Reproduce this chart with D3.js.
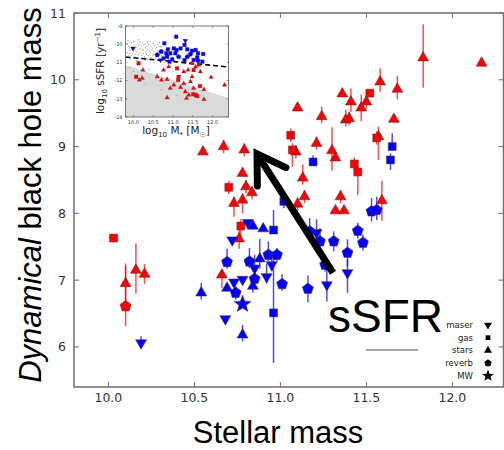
<!DOCTYPE html>
<html><head><meta charset="utf-8">
<script src="https://cdn.jsdelivr.net/npm/d3@7"></script>
<style>body{margin:0;background:#fff}svg{display:block}</style>
</head><body>
<svg id="c" width="504" height="450"></svg>
<script>
// ---------- DATA (x = log stellar mass, y = log BH mass, eLo, eHi) ----------
const redStars = [[10.10,6.95,0.3,0.3],[10.16,7.15,0.35,0.4],[10.21,7.09,0.15,0.15],[10.55,8.92,0,0],[10.67,9.00,0.1,0.1],
 [10.79,8.95,0.1,0.1],[10.78,8.60,0,0],[10.80,8.40,0.1,0.1],[10.835,8.31,0.1,0.1],[10.73,8.15,0.2,0.1],[10.78,8.20,0.2,0.1],
 [10.76,7.62,0.15,0.15],[10.66,7.08,0.2,0],[11.09,8.92,0.1,0.1],[11.21,9.05,0.1,0.1],[11.30,8.94,0.3,0.35],[11.32,8.83,0,0],
 [11.13,8.53,0.1,0.2],[11.14,8.25,0.1,0.1],[11.10,8.14,0.1,0.1],[11.35,8.25,0.1,0.1],[11.32,8.04,0,0],[11.37,8.04,0,0],
 [11.59,8.19,0.3,0.3],[11.83,10.33,0.45,0.5],[12.17,10.25,0,0],[11.58,9.97,0.15,0.2],[11.68,9.86,0.15,0.2],[11.36,9.79,0,0],
 [11.41,9.67,0.15,0.2],[11.50,9.67,0.1,0.1],[11.47,9.58,0.2,0.2],[11.10,9.58,0,0],[11.24,9.45,0.1,0.15],[11.38,9.40,0.1,0.15],
 [11.40,9.42,0.1,0.1],[11.66,9.41,0,0],[11.57,9.15,0.35,0.15]];
const redGas = [[10.03,7.63,0.05,0.05],[10.70,8.39,0.1,0.1],[10.77,7.81,0.15,0.1],[11.07,8.95,0.25,0.1],[11.43,8.74,0.1,0.1],
 [11.45,8.62,0.35,0.1],[11.52,9.80,0,0],[11.06,9.17,0.1,0.1],[11.56,9.13,0.1,0.1]];
const redReverb = [[10.10,6.61,0.3,0.6]];
const blueMaser = [[10.19,6.06,0,0.1],[10.72,7.60,0,0],[10.81,7.86,0,0],[10.95,7.23,0.1,0.2],[10.85,7.18,0.1,0.2],
 [10.92,7.05,0.1,0.2],[10.73,6.97,0,0],[10.78,7.01,0,0],[10.68,6.42,0,0],[11.27,6.93,0.25,0.28],[11.39,7.11,0.3,0.2],[11.21,7.71,0.1,0.2]];
const blueStars = [[10.54,6.81,0.1,0.15],[10.84,7.81,0,0],[10.90,7.77,0,0],[10.88,7.32,0.15,0.3],[10.84,6.91,0.1,0.1],
 [10.69,6.88,0,0],[10.78,6.18,0.1,0.15]];
const blueGas = [[10.96,7.75,0,0.3],[10.96,6.51,0.75,0.9],[11.19,8.77,0,0.1],[11.65,9.00,0,0.2],[11.64,8.80,0.15,0.1],[11.02,8.18,0.1,0.1]];
const blueReverb = [[10.69,7.27,0.1,0.2],[10.82,7.28,0.1,0.2],[10.93,7.38,0.1,0.2],[10.98,7.38,0.1,0.1],[10.85,7.02,0.1,0.1],
 [10.74,6.81,0.1,0.1],[11.01,6.94,0.1,0.15],[11.16,6.87,0.2,0.2],[11.39,7.41,0.2,0.2],[11.31,7.58,0.15,0.15],[11.23,7.58,0.15,0.2],
 [11.17,7.73,0.15,0.2],[11.45,7.74,0.12,0.12],[11.48,7.56,0.12,0.12],[11.53,8.03,0.15,0.2],[11.56,8.05,0.15,0.2],[11.26,7.23,0.1,0.1]];
const blueMW = [[10.78,6.64,0,0]];

const xTicks = [10.0,10.5,11.0,11.5,12.0];
const yTicks = [6,7,8,9,10,11];
const legendLabels = ["maser","gas","stars","reverb","MW"];
const arrowFromTo = [[11.306,7.11],[10.864,8.89]];

// ---------- INSET DATA (log M*, log sSFR) ----------
const insetBlueSq = [[10.78,-9.95],[10.87,-10.28],[10.93,-10.5],[11.02,-10.23],[11.06,-10.5],[10.85,-10.69],[10.98,-10.83],
 [11.09,-10.32],[10.76,-10.78],[10.91,-10.96],[11.08,-9.59],[11.29,-10.04],[11.36,-10.28],[11.48,-10.36],[11.57,-10.32],
 [11.63,-10.5],[11.76,-10.54],[11.61,-10.72],[11.29,-10.87],[11.52,-10.87],[11.74,-10.96],[11.19,-10.23],[10.83,-10.5]];
const insetBluePent = [[10.60,-10.59],[11.44,-10.54],[11.36,-10.69],[11.63,-10.9],[11.14,-10.69],[10.70,-10.41]];
const insetBlueMaser = [[9.99,-10.23],[11.31,-9.81],[10.68,-10.87]];
const insetRedSq = [[10.13,-11.05],[10.07,-11.79],[11.10,-11.33],[11.13,-11.97],[11.14,-11.79],[11.51,-12.75],[11.57,-12.79],
 [11.61,-12.85],[11.52,-11.42],[11.68,-12.30]];
const insetRedTri = [[10.24,-11.42],[10.15,-11.97],[10.22,-11.87],[10.60,-11.79],[10.71,-11.97],[10.85,-11.93],[10.76,-11.42],
 [10.89,-11.24],[11.19,-12.37],[10.85,-12.94],[11.31,-12.61],[11.40,-12.79],[11.34,-12.97],[11.44,-12.06],[11.48,-11.79],
 [11.57,-11.24],[11.65,-11.14],[11.48,-11.05],[11.69,-11.51],[11.38,-11.42],[11.27,-11.51],[11.52,-12.42],[11.78,-12.48],
 [11.78,-13.03],[11.96,-11.82],[12.30,-12.24],[11.02,-12.24],[10.93,-12.42],[11.27,-12.15]];
const insetCloud = [[9.85,-10.0],[9.9,-10.2],[9.95,-9.9],[10.0,-10.4],[10.05,-10.1],[10.1,-9.95],[10.15,-10.3],[10.2,-10.05],
 [10.25,-10.5],[10.3,-10.2],[10.35,-9.9],[10.4,-10.35],[10.45,-10.1],[10.5,-10.6],[10.55,-10.25],[10.6,-10.0],[10.65,-10.45],
 [10.7,-10.15],[10.75,-10.6],[10.8,-10.3],[9.88,-10.6],[9.93,-10.8],[9.98,-10.5],[10.03,-10.7],[10.08,-10.9],[10.13,-10.6],
 [10.18,-10.8],[10.23,-10.3],[10.28,-10.7],[10.33,-10.55],[10.38,-10.75],[10.43,-10.45],[10.48,-10.85],[10.53,-10.4],
 [10.58,-10.7],[10.63,-10.9],[10.68,-10.35],[10.73,-10.8],[10.78,-11.0],[10.83,-10.5],[10.88,-10.8],[10.93,-11.1],[10.98,-10.7],
 [11.05,-10.9],[11.12,-11.2],[11.2,-10.8],[11.3,-11.0],[11.4,-11.3],[11.5,-11.1],[9.9,-11.3],[10.0,-11.5],[10.2,-11.7],
 [10.4,-11.4],[10.6,-11.6],[10.8,-11.9],[11.0,-11.5],[11.2,-11.7],[11.4,-12.0],[10.3,-12.2],[10.7,-12.5],[11.1,-12.8],
 [11.5,-12.3],[9.86,-9.8],[10.12,-9.75],[10.42,-9.85],[10.66,-9.9],[9.92,-10.35],[10.02,-10.22],[10.17,-10.48],[10.27,-10.02],
 [10.37,-10.62],[10.47,-10.32],[10.57,-10.52],[10.72,-10.42],[10.87,-10.22],[10.92,-10.45],[9.96,-10.1],[10.09,-10.42],
 [10.21,-10.62],[10.34,-10.12],[10.46,-10.72],[10.59,-10.18],[10.71,-10.62],[10.84,-10.92],[9.84,-10.45],[10.52,-11.0],
 [9.87,-10.12],[9.91,-10.48],[9.97,-10.28],[10.01,-9.86],[10.04,-10.56],[10.07,-10.18],[10.11,-10.76],[10.14,-10.08],
 [10.19,-10.22],[10.22,-9.92],[10.26,-10.36],[10.29,-10.88],[10.32,-10.42],[10.36,-10.28],[10.39,-10.02],[10.41,-10.58],
 [10.44,-10.92],[10.49,-10.22],[10.51,-10.48],[10.54,-10.08],[10.56,-10.82],[10.61,-10.36],[10.64,-10.62],[10.67,-10.12],
 [10.69,-10.78],[10.74,-10.28],[10.77,-10.48],[10.81,-10.72],[10.86,-10.38],[10.9,-10.62],[10.96,-10.32],[11.0,-10.55],
 [9.89,-9.92],[9.94,-10.62],[10.06,-10.32],[10.16,-9.86],[10.24,-10.78],[10.31,-9.98],[10.36,-10.85],[10.5,-9.96]];
const insetDashed = [[9.8,-10.70],[12.4,-11.25]];
const insetQuenched = [[9.8,-11.14],[12.4,-12.96]];
const insetXTicks = [10.0,10.5,11.0,11.5,12.0];
const insetYTicks = [-9,-10,-11,-12,-13,-14];

// ---------- DRAWING ----------
const svg = d3.select("#c");
const RED="#ff0000", BLUE="#0000ff";
const x = d3.scaleLinear().domain([9.8,12.3]).range([74,504]);
const y = d3.scaleLinear().domain([5.4,11]).range([387,13]);

function poly(n, r, start, inner){
  const pts=[];
  const m = inner ? 2*n : n;
  for(let i=0;i<m;i++){
    const a = (start + i*360/m)*Math.PI/180;
    const rr = inner && (i%2) ? r*inner : r;
    pts.push([rr*Math.cos(a), rr*Math.sin(a)]);
  }
  return "M"+pts.map(p=>p[0].toFixed(2)+","+p[1].toFixed(2)).join("L")+"Z";
}
function shape(type, r){
  if(type==="tri") return poly(3,r,-90);
  if(type==="dtri") return poly(3,r,90);
  if(type==="sq") return poly(4,r,45);
  if(type==="pent") return poly(5,r,-90);
  if(type==="star") return poly(5,r,-90,0.42);
}

// axes frame
const ax = svg.append("g");
const L=74,R=503.5,T=13,B=387;
ax.append("path").attr("d",`M${L},${T}H${R}V${B}H${L}Z`).attr("fill","none").attr("stroke","#6e6e6e").attr("stroke-width",1.5);
xTicks.forEach(t=>{
  ax.append("line").attr("x1",x(t)).attr("x2",x(t)).attr("y1",B).attr("y2",B-5).attr("stroke","#6e6e6e");
  ax.append("line").attr("x1",x(t)).attr("x2",x(t)).attr("y1",T).attr("y2",T+5).attr("stroke","#6e6e6e");
  ax.append("text").attr("x",x(t)).attr("y",402).attr("text-anchor","middle")
    .attr("font-family","DejaVu Sans").attr("font-size",12.5).attr("fill","#333").text(t.toFixed(1));
});
yTicks.forEach(t=>{
  ax.append("line").attr("x1",L).attr("x2",L+5).attr("y1",y(t)).attr("y2",y(t)).attr("stroke","#6e6e6e");
  ax.append("line").attr("x1",R).attr("x2",R-5).attr("y1",y(t)).attr("y2",y(t)).attr("stroke","#6e6e6e");
  ax.append("text").attr("x",66).attr("y",y(t)+4.5).attr("text-anchor","end")
    .attr("font-family","DejaVu Sans").attr("font-size",12.5).attr("fill","#333").text(t);
});

// axis titles
svg.append("text").attr("x",278).attr("y",443).attr("text-anchor","middle")
  .attr("font-family","Liberation Sans, Arial").attr("font-size",31).attr("fill","#000").text("Stellar mass");
const yt = svg.append("text").attr("transform","translate(41,195) rotate(-90)").attr("text-anchor","middle")
  .attr("font-family","Liberation Sans, Arial").attr("font-size",31).attr("fill","#000");
yt.append("tspan").attr("font-style","italic").text("Dynamical");
yt.append("tspan").text(" black hole mass");

// series
const series = [
  {d:redStars,c:RED,t:"tri",r:6.3},{d:redGas,c:RED,t:"sq",r:5.6},{d:redReverb,c:RED,t:"pent",r:5.8},
  {d:blueMaser,c:BLUE,t:"dtri",r:6.3},{d:blueStars,c:BLUE,t:"tri",r:6.3},{d:blueGas,c:BLUE,t:"sq",r:5.6},
  {d:blueReverb,c:BLUE,t:"pent",r:5.8},{d:blueMW,c:BLUE,t:"star",r:9}
];
const eg = svg.append("g"), mg = svg.append("g");
series.forEach(s=>{
  eg.selectAll(null).data(s.d.filter(d=>d[2]>0||d[3]>0)).join("line")
    .attr("x1",d=>x(d[0])).attr("x2",d=>x(d[0])).attr("y1",d=>y(d[1]-d[2])).attr("y2",d=>y(d[1]+d[3]))
    .attr("stroke",s.c).attr("stroke-opacity",0.7).attr("stroke-width",1.5);
});
series.forEach(s=>{
  mg.selectAll(null).data(s.d).join("path")
    .attr("d",shape(s.t,s.r)).attr("transform",d=>`translate(${x(d[0])},${y(d[1])})`)
    .attr("fill",s.c).attr("stroke","#5a3030").attr("stroke-opacity",0.7).attr("stroke-width",0.8);
});

// arrow
const a0=[x(arrowFromTo[0][0]),y(arrowFromTo[0][1])], a1=[x(arrowFromTo[1][0]),y(arrowFromTo[1][1])];
const ang = Math.atan2(a0[1]-a1[1],a0[0]-a1[0]);
const hl=32, hw=32*Math.PI/180;
svg.append("line").attr("x1",a0[0]).attr("y1",a0[1]).attr("x2",a1[0]+2*Math.cos(ang)).attr("y2",a1[1]+2*Math.sin(ang))
  .attr("stroke","#000").attr("stroke-width",7);
svg.append("path").attr("d",`M${a1[0]+hl*Math.cos(ang+hw)},${a1[1]+hl*Math.sin(ang+hw)}L${a1[0]},${a1[1]}L${a1[0]+hl*Math.cos(ang-hw)},${a1[1]+hl*Math.sin(ang-hw)}`)
  .attr("fill","none").attr("stroke","#000").attr("stroke-width",7).attr("stroke-linejoin","miter").attr("stroke-linecap","round");

svg.append("text").attr("x",328).attr("y",332).attr("font-family","Liberation Sans, Arial").attr("font-size",46).attr("fill","#000").text("sSFR");

// legend
const lg = svg.append("g");
const legT = ["dtri","sq","tri","pent","star"], legR=[4.6,3.4,4.6,3.9,6.2];
legendLabels.forEach((lab,i)=>{
  const yy = 325+i*12.7;
  lg.append("text").attr("x",473).attr("y",yy+3).attr("text-anchor","end").attr("font-family","DejaVu Sans")
    .attr("font-size",8.5).attr("fill","#222").text(lab);
  lg.append("path").attr("d",shape(legT[i],legR[i])).attr("transform",`translate(488,${yy})`).attr("fill","#000");
});
lg.append("line").attr("x1",366).attr("x2",418).attr("y1",350).attr("y2",350).attr("stroke","#888").attr("stroke-width",1.5);

// ---------- INSET ----------
const xi = d3.scaleLinear().domain([9.8,12.4]).range([125.5,228.5]);
const yi = d3.scaleLinear().domain([-14,-9]).range([117,26]);
const ig = svg.append("g");
ig.append("rect").attr("x",125.5).attr("y",26).attr("width",103).attr("height",91).attr("fill","#fff");
ig.append("path").attr("d",`M${xi(insetQuenched[0][0])},${yi(insetQuenched[0][1])}L${xi(insetQuenched[1][0])},${yi(insetQuenched[1][1])}L${xi(12.4)},${yi(-14)}L${xi(9.8)},${yi(-14)}Z`)
  .attr("fill","#dadada");
ig.selectAll(null).data(insetCloud).join("circle").attr("cx",d=>xi(d[0])).attr("cy",d=>yi(d[1])).attr("r",0.6).attr("fill","#999");
ig.append("line").attr("x1",xi(insetDashed[0][0])).attr("y1",yi(insetDashed[0][1])).attr("x2",xi(insetDashed[1][0])).attr("y2",yi(insetDashed[1][1]))
  .attr("stroke","#000").attr("stroke-width",1.6).attr("stroke-dasharray","5,3");
const iser = [{d:insetBlueSq,c:BLUE,t:"sq",r:2.6},{d:insetBluePent,c:BLUE,t:"pent",r:2.6},{d:insetBlueMaser,c:BLUE,t:"dtri",r:2.8},
  {d:insetRedSq,c:RED,t:"sq",r:2.6},{d:insetRedTri,c:RED,t:"tri",r:2.6}];
iser.forEach(s=>{
  ig.selectAll(null).data(s.d).join("path").attr("d",shape(s.t,s.r)).attr("transform",d=>`translate(${xi(d[0])},${yi(d[1])})`)
    .attr("fill",s.c).attr("stroke","#333").attr("stroke-opacity",0.6).attr("stroke-width",0.4);
});
ig.append("rect").attr("x",125.5).attr("y",26).attr("width",103).attr("height",91).attr("fill","none").attr("stroke","#555").attr("stroke-width",0.8);
insetXTicks.forEach(t=>{
  ig.append("line").attr("x1",xi(t)).attr("x2",xi(t)).attr("y1",117).attr("y2",115).attr("stroke","#555").attr("stroke-width",0.6);
  ig.append("line").attr("x1",xi(t)).attr("x2",xi(t)).attr("y1",26).attr("y2",28).attr("stroke","#555").attr("stroke-width",0.6);
  ig.append("text").attr("x",xi(t)).attr("y",124).attr("text-anchor","middle").attr("font-family","DejaVu Sans").attr("font-size",5).attr("fill","#333").text(t.toFixed(1));
});
insetYTicks.forEach(t=>{
  ig.append("line").attr("x1",125.5).attr("x2",127.5).attr("y1",yi(t)).attr("y2",yi(t)).attr("stroke","#555").attr("stroke-width",0.6);
  ig.append("line").attr("x1",228.5).attr("x2",226.5).attr("y1",yi(t)).attr("y2",yi(t)).attr("stroke","#555").attr("stroke-width",0.6);
  ig.append("text").attr("x",122.5).attr("y",yi(t)+1.8).attr("text-anchor","end").attr("font-family","DejaVu Sans").attr("font-size",5).attr("fill","#333").text(t);
});
const ixl = ig.append("text").attr("x",176).attr("y",134).attr("text-anchor","middle").attr("font-family","DejaVu Sans").attr("font-size",10.5).attr("fill","#222");
ixl.append("tspan").text("log");
ixl.append("tspan").attr("font-size",7).attr("dy",2.5).text("10");
ixl.append("tspan").attr("dy",-2.5).text(" M");
ixl.append("tspan").attr("font-size",7).attr("dy",2.5).text("*");
ixl.append("tspan").attr("dy",-2.5).text(" [M");
ixl.append("tspan").attr("font-size",7).attr("dy",2.5).text("☉");
ixl.append("tspan").attr("dy",-2.5).text("]");
const iyl = ig.append("text").attr("transform","translate(104,71) rotate(-90)").attr("text-anchor","middle").attr("font-family","DejaVu Sans").attr("font-size",10.5).attr("fill","#222");
iyl.append("tspan").text("log");
iyl.append("tspan").attr("font-size",7).attr("dy",2.5).text("10");
iyl.append("tspan").attr("dy",-2.5).text(" sSFR [yr");
iyl.append("tspan").attr("font-size",7).attr("dy",-4).text("−1");
iyl.append("tspan").attr("dy",4).text("]");
</script>
</body></html>
